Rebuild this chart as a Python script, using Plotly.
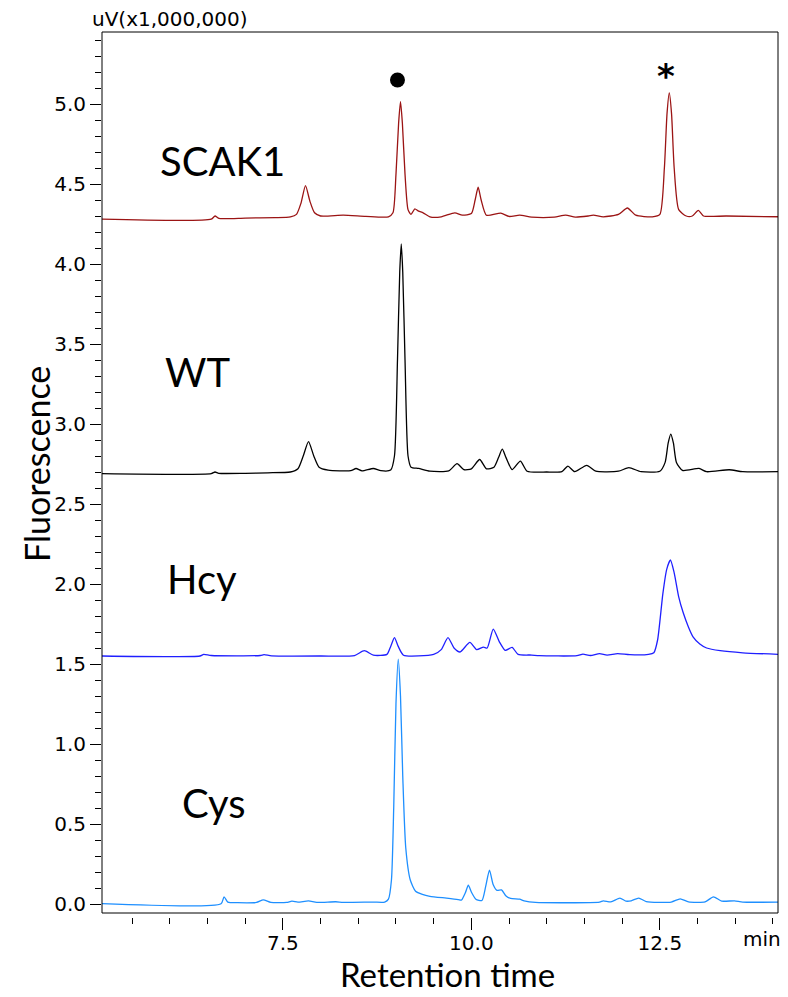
import plotly.graph_objects as go

# ---------------- data ----------------
scak1_t = [5.10, 6.55, 6.60, 6.65, 7.00, 7.40, 7.60, 7.68, 7.74, 7.80, 7.86, 7.92, 8.00, 8.30, 8.60,
           8.90, 8.96, 9.00, 9.035, 9.06, 9.085, 9.12, 9.16, 9.20, 9.25, 9.30, 9.36, 9.45, 9.60, 9.78,
           9.88, 10.00, 10.05, 10.09, 10.13, 10.20, 10.39, 10.50, 10.64, 10.80, 11.10, 11.25, 11.38,
           11.55, 11.62, 11.75, 11.95, 12.07, 12.18, 12.40, 12.50, 12.56, 12.595, 12.625, 12.655,
           12.69, 12.75, 12.85, 12.93, 13.01, 13.08, 13.38, 14.10]
scak1_v = [4.280, 4.280, 4.300, 4.285, 4.287, 4.290, 4.295, 4.310, 4.380, 4.490, 4.390, 4.320, 4.300,
           4.305, 4.298, 4.295, 4.320, 4.560, 4.880, 5.015, 4.880, 4.560, 4.340, 4.310, 4.345, 4.330,
           4.320, 4.295, 4.295, 4.320, 4.305, 4.315, 4.400, 4.480, 4.400, 4.305, 4.318, 4.297, 4.305,
           4.293, 4.293, 4.305, 4.293, 4.300, 4.305, 4.295, 4.310, 4.350, 4.305, 4.295, 4.310, 4.600,
           4.940, 5.070, 4.940, 4.600, 4.340, 4.300, 4.300, 4.335, 4.300, 4.300, 4.295]

wt_t = [5.10, 6.55, 6.60, 6.65, 7.00, 7.30, 7.60, 7.70, 7.77, 7.84, 7.91, 7.98, 8.10, 8.40, 8.47, 8.55,
        8.70, 8.80, 8.93, 8.98, 9.02, 9.05, 9.07, 9.09, 9.12, 9.16, 9.20, 9.30, 9.45, 9.70, 9.81, 9.90,
        10.00, 10.11, 10.20, 10.30, 10.36, 10.41, 10.46, 10.54, 10.65, 10.74, 11.00, 11.20, 11.28,
        11.37, 11.53, 11.65, 11.95, 12.09, 12.25, 12.50, 12.57, 12.61, 12.645, 12.68, 12.72, 12.80,
        13.02, 13.12, 13.42, 13.60, 14.10]
wt_v = [2.690, 2.690, 2.700, 2.692, 2.692, 2.695, 2.700, 2.720, 2.800, 2.890, 2.800, 2.730, 2.712,
        2.708, 2.722, 2.707, 2.722, 2.708, 2.712, 2.800, 3.400, 3.950, 4.125, 3.950, 3.400, 2.800,
        2.730, 2.722, 2.705, 2.707, 2.752, 2.715, 2.720, 2.778, 2.720, 2.730, 2.790, 2.843, 2.790,
        2.715, 2.768, 2.705, 2.700, 2.702, 2.737, 2.702, 2.742, 2.705, 2.705, 2.727, 2.702, 2.705,
        2.760, 2.880, 2.937, 2.880, 2.760, 2.710, 2.722, 2.702, 2.714, 2.702, 2.702]

hcy_t = [5.10, 6.40, 6.45, 6.55, 7.20, 7.25, 7.35, 8.00, 8.45, 8.58, 8.70, 8.88, 8.93, 8.98, 9.03, 9.10,
         9.50, 9.60, 9.69, 9.77, 9.85, 9.98, 10.07, 10.16, 10.21, 10.29, 10.37, 10.45, 10.54, 10.62,
         10.80, 10.90, 11.40, 11.48, 11.58, 11.70, 11.80, 11.94, 12.10, 12.35, 12.42, 12.47, 12.54,
         12.59, 12.64, 12.69, 12.75, 12.81, 12.88, 12.94, 13.03, 13.12, 13.30, 13.60, 14.10]
hcy_v = [1.550, 1.550, 1.560, 1.553, 1.553, 1.558, 1.551, 1.550, 1.553, 1.583, 1.555, 1.560, 1.610,
         1.665, 1.610, 1.555, 1.560, 1.590, 1.665, 1.600, 1.575, 1.635, 1.590, 1.606, 1.600, 1.718,
         1.640, 1.585, 1.604, 1.560, 1.556, 1.552, 1.552, 1.562, 1.553, 1.565, 1.555, 1.565, 1.558,
         1.560, 1.570, 1.650, 1.940, 2.090, 2.150, 2.070, 1.920, 1.820, 1.730, 1.670, 1.625, 1.600,
         1.583, 1.570, 1.560]

cys_t = [5.10, 6.68, 6.72, 6.77, 6.90, 7.15, 7.24, 7.34, 7.55, 7.62, 7.70, 7.84, 7.95, 8.20, 8.30, 8.70,
         8.85, 8.90, 8.94, 8.97, 9.00, 9.03, 9.06, 9.09, 9.13, 9.19, 9.26, 9.35, 9.45, 9.70, 9.85,
         9.87, 9.92, 9.96, 10.00, 10.06, 10.14, 10.19, 10.24, 10.29, 10.34, 10.40, 10.46, 10.52, 10.64,
         10.70, 10.85, 11.70, 11.75, 11.85, 11.97, 12.05, 12.12, 12.22, 12.32, 12.65, 12.77, 12.88,
         13.10, 13.21, 13.32, 13.49, 13.60, 14.10]
cys_v = [0.002, 0.002, 0.045, 0.012, 0.008, 0.010, 0.026, 0.010, 0.010, 0.018, 0.012, 0.019, 0.010,
         0.014, 0.010, 0.012, 0.012, 0.030, 0.150, 0.600, 1.250, 1.530, 1.300, 0.800, 0.350, 0.150,
         0.080, 0.060, 0.048, 0.035, 0.025, 0.025, 0.070, 0.118, 0.075, 0.030, 0.022, 0.110, 0.212,
         0.120, 0.085, 0.088, 0.050, 0.035, 0.030, 0.020, 0.010, 0.012, 0.020, 0.013, 0.037, 0.018,
         0.020, 0.037, 0.015, 0.012, 0.032, 0.013, 0.013, 0.045, 0.018, 0.020, 0.012, 0.012]

sample_names = ["SCAK1", "WT", "Hcy", "Cys"]
label_t = [5.847, 5.914, 5.94, 6.14]
label_v = [4.644, 3.325, 2.03, 0.63]
colors = ["#9b1414", "#000000", "#1f1fff", "#1e8fff"]

dot_t, dot_v = [9.02], [5.15]
star_t, star_v = [12.58], [5.175]

x_range = [5.101, 14.067]
y_range = [-0.05625, 5.45]

# ---------------- figure ----------------
fig = go.Figure()
series = [(scak1_t, scak1_v), (wt_t, wt_v), (hcy_t, hcy_v), (cys_t, cys_v)]
for (t, v), c, n in zip(series, colors, sample_names):
    fig.add_trace(go.Scatter(x=t, y=v, mode="lines", name=n,
                             line=dict(color=c, width=1.3, shape="spline", smoothing=0.6)))

fig.add_trace(go.Scatter(x=dot_t, y=dot_v, mode="markers",
                         marker=dict(color="black", size=15), showlegend=False))

for n, tx, ty in zip(sample_names, label_t, label_v):
    fig.add_annotation(x=tx, y=ty, xref="x", yref="y", text=n, showarrow=False,
                       xanchor="left", yanchor="middle",
                       font=dict(family="Lato", size=40, color="black"))

fig.add_annotation(x=star_t[0], y=star_v[0], xref="x", yref="y", text="<b>*</b>", showarrow=False,
                   xanchor="center", yanchor="middle",
                   font=dict(family="DejaVu Sans", size=34, color="black"))

H = 885.0
fig.add_annotation(x=-12 / 676, y=(917 - 19) / H, xref="paper", yref="paper",
                   text="uV(x1,000,000)", showarrow=False, xanchor="left", yanchor="middle",
                   font=dict(family="DejaVu Sans", size=20, color="black"))
fig.add_annotation(x=(762 - 102) / 676, y=(917 - 939) / H, xref="paper", yref="paper",
                   text="min", showarrow=False, xanchor="center", yanchor="middle",
                   font=dict(family="DejaVu Sans", size=20, color="black"))
fig.add_annotation(x=(447 - 102) / 676, y=(917 - 996) / H, xref="paper", yref="paper",
                   text="Retention time", showarrow=False, xanchor="center", yanchor="bottom",
                   font=dict(family="Lato", size=33, color="black"))
fig.add_annotation(x=(37 - 102) / 676, y=(917 - 464) / H, xref="paper", yref="paper",
                   text="Fluorescence", showarrow=False, xanchor="center", yanchor="middle",
                   textangle=-90, font=dict(family="Lato", size=34, color="black"))

fig.add_shape(type="rect", xref="paper", yref="paper", x0=0, x1=1, y0=4 / H, y1=1,
              line=dict(color="black", width=1), fillcolor="rgba(0,0,0,0)")

fig.update_layout(
    width=788, height=997,
    margin=dict(l=102, r=10, t=32, b=80),
    paper_bgcolor="white", plot_bgcolor="white",
    showlegend=False,
    xaxis=dict(range=x_range, anchor="free", position=0,
               tick0=0, dtick=2.5, tickformat=".1f",
               ticks="outside", ticklen=12, tickwidth=1, tickcolor="black",
               ticklabelstandoff=-4,
               minor=dict(tick0=0, dtick=0.5, ticks="outside", ticklen=6, tickwidth=1, tickcolor="black"),
               showgrid=False, zeroline=False, showline=False,
               tickfont=dict(family="DejaVu Sans", size=20, color="black")),
    yaxis=dict(range=y_range, domain=[4 / H, 1],
               tick0=0, dtick=0.5, tickformat=".1f",
               ticks="outside", ticklen=11, tickwidth=1, tickcolor="black",
               minor=dict(tick0=0, dtick=0.1, ticks="outside", ticklen=6, tickwidth=1, tickcolor="black"),
               showgrid=False, zeroline=False, showline=False,
               tickfont=dict(family="DejaVu Sans", size=20, color="black")),
)

fig.write_html("out.html")
